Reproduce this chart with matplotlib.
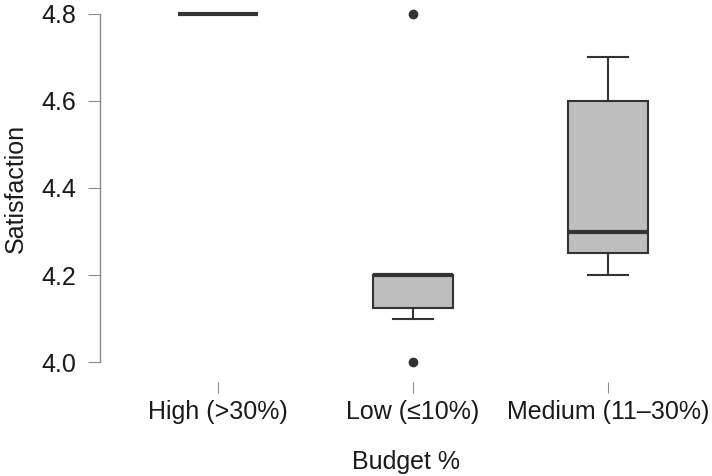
import matplotlib.pyplot as plt

plt.rcParams['font.family'] = ['Liberation Sans', 'DejaVu Sans']

# summary stats per budget group
categories = ['High (>30%)', 'Low (≤10%)', 'Medium (11–30%)']
medians = [4.8, 4.2, 4.3]
q1 = [4.8, 4.125, 4.25]
q3 = [4.8, 4.2, 4.6]
whislo = [4.8, 4.1, 4.2]
whishi = [4.8, 4.2, 4.7]
fliers = [[], [4.0, 4.8], []]
yticks = [4.0, 4.2, 4.4, 4.6, 4.8]

stats = []
for i, name in enumerate(categories):
    stats.append(dict(label=name, med=medians[i], q1=q1[i], q3=q3[i],
                      whislo=whislo[i], whishi=whishi[i], fliers=fliers[i]))

fig = plt.figure(figsize=(7.12, 4.76), dpi=100)
ax = fig.add_axes([100 / 712, 100 / 476, 612 / 712, 376 / 476])

dark = '#333333'
ax.bxp(stats, positions=[1, 2, 3], widths=0.41, patch_artist=True,
       boxprops=dict(facecolor='#bebebe', edgecolor=dark, linewidth=1.5),
       medianprops=dict(color=dark, linewidth=3),
       whiskerprops=dict(color=dark, linewidth=1.5),
       capprops=dict(color=dark, linewidth=1.5),
       capwidths=0.205,
       flierprops=dict(marker='o', markerfacecolor=dark, markeredgecolor=dark,
                       markersize=6))

ax.set_xlim(0.395, 3.533)
ax.set_ylim(3.968, 4.832)
ax.set_yticks(yticks)
ax.set_yticklabels([f'{v:.1f}' for v in yticks])

for side in ['top', 'right']:
    ax.spines[side].set_visible(False)
ax.spines['bottom'].set_color('none')
ax.spines['bottom'].set_position(('outward', 4))
ax.spines['left'].set_bounds(4.0, 4.8)
ax.spines['left'].set_color('#8c8c8c')
ax.spines['left'].set_linewidth(1)

ax.tick_params(axis='y', length=8.6, color='#8c8c8c', labelsize=18,
               labelcolor='#1a1a1a', pad=8.5)
ax.tick_params(axis='x', length=8, color='#8c8c8c', labelsize=18,
               labelcolor='#1a1a1a', pad=5)

ax.set_xlabel('Budget %', fontsize=18, color='#1a1a1a', labelpad=19)
ax.set_ylabel('Satisfaction', fontsize=18, color='#1a1a1a', labelpad=10)

fig.savefig('out.png', dpi=100)
